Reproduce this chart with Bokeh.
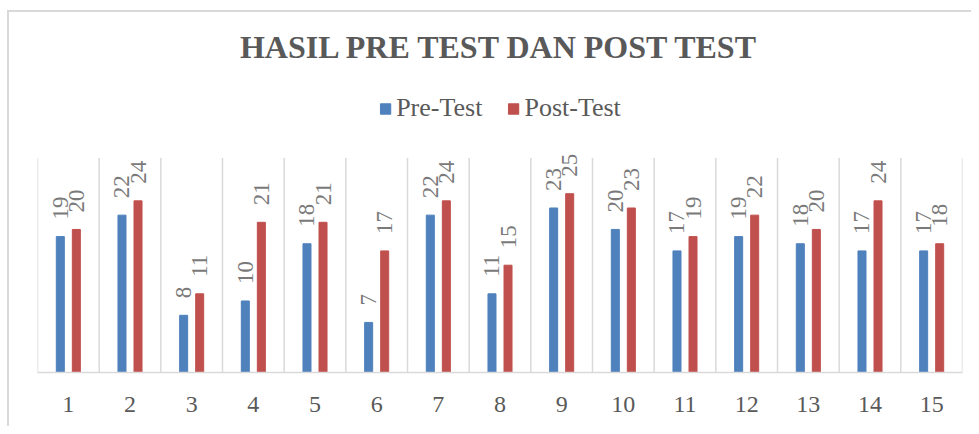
import numpy as np
from bokeh.plotting import figure
from bokeh.models import ColumnDataSource, Range1d, FixedTicker, Legend, LegendItem
from bokeh.core.properties import value
from bokeh.embed import file_html
from bokeh.resources import INLINE

# ---- data ----
students = ["1", "2", "3", "4", "5", "6", "7", "8", "9", "10", "11", "12", "13", "14", "15"]
pre_test = [19, 22, 8, 10, 18, 7, 22, 11, 23, 20, 17, 19, 18, 17, 17]
post_test = [20, 24, 11, 21, 21, 17, 24, 15, 25, 23, 19, 22, 20, 24, 18]
series_names = ["Pre-Test", "Post-Test"]
title_text = "HASIL PRE TEST DAN POST TEST"
axis_max = 30

# ---- styling ----
BLUE = "#4F81BD"
RED = "#C0504D"
GRID = "#d9d9d9"
TEXT = "#595959"
LABEL = "#7a7a7a"
FONT = "Liberation Serif"
BAR_W = 0.13
OFF = 0.13
FRAME_H = 302
PX_PER_UNIT = 216 / axis_max
y_end = FRAME_H / PX_PER_UNIT
W, H = 971, 426

n = len(students)
x = np.arange(1, n + 1)

src = ColumnDataSource(dict(
    x_pre=x - OFF, x_post=x + OFF,
    pre=pre_test, post=post_test,
    pre_lbl=[str(v) for v in pre_test],
    post_lbl=[str(v) for v in post_test],
))

p = figure(width=W, height=H,
           x_range=Range1d(0.5, n + 0.5), y_range=Range1d(0, y_end),
           output_backend="svg", toolbar_location=None,
           y_axis_location=None,
           min_border_left=37, min_border_right=9,
           min_border_top=72, min_border_bottom=54)
p.outline_line_color = None
p.background_fill_color = "white"
p.border_fill_alpha = 0
# chart-area border (top and left edges, as in the reference crop)
p.styles = {
    "background": (
        "linear-gradient(#d9d9d9, #d9d9d9) 7px 10px / 964px 2px no-repeat, "
        "linear-gradient(#d9d9d9, #d9d9d9) 7px 10px / 2px 416px no-repeat, "
        "white"
    )
}
p.grid.visible = False

# vertical separators between categories
bounds = np.arange(0.5, n + 1.0, 1.0)
p.segment(x0=bounds, y0=0, x1=bounds, y1=axis_max, line_color=GRID, line_width=1.5)

r_pre = p.vbar(x="x_pre", top="pre", bottom=0, width=BAR_W, source=src,
               fill_color=BLUE, line_color=BLUE)
r_post = p.vbar(x="x_post", top="post", bottom=0, width=BAR_W, source=src,
                fill_color=RED, line_color=RED)

for xc, yc, tc in (("x_pre", "pre", "pre_lbl"), ("x_post", "post", "post_lbl")):
    p.text(x=xc, y=yc, text=tc, source=src, angle=np.pi / 2,
           text_align="left", text_baseline="middle", y_offset=-17,
           text_font=value(FONT), text_font_size="23px", text_color=LABEL)

ax = p.xaxis[0]
ax.ticker = FixedTicker(ticks=list(x))
ax.major_label_overrides = {int(i): s for i, s in zip(x, students)}
ax.major_tick_line_color = None
ax.minor_tick_line_color = None
ax.major_tick_out = 0
ax.major_tick_in = 0
ax.axis_line_color = GRID
ax.axis_line_width = 1.5
ax.major_label_standoff = 24
ax.major_label_text_font = FONT
ax.major_label_text_font_size = "24px"
ax.major_label_text_color = TEXT

p.title.text = title_text
p.title.text_font = FONT
p.title.text_font_style = "bold"
p.title.text_font_size = "32px"
p.title.text_color = TEXT
p.title.align = "center"
p.title.standoff = 15

legend = Legend(items=[LegendItem(label=series_names[0], renderers=[r_pre]),
                       LegendItem(label=series_names[1], renderers=[r_post])],
                orientation="horizontal", location="top_center")
legend.glyph_width = 13
legend.glyph_height = 13
legend.label_text_font = FONT
legend.label_text_font_size = "26px"
legend.label_text_color = TEXT
legend.border_line_color = None
legend.background_fill_alpha = 0
legend.spacing = 24
legend.label_standoff = 5
legend.padding = 0
legend.margin = 21
p.add_layout(legend, "center")

open("out.html", "w").write(file_html(p, INLINE))
